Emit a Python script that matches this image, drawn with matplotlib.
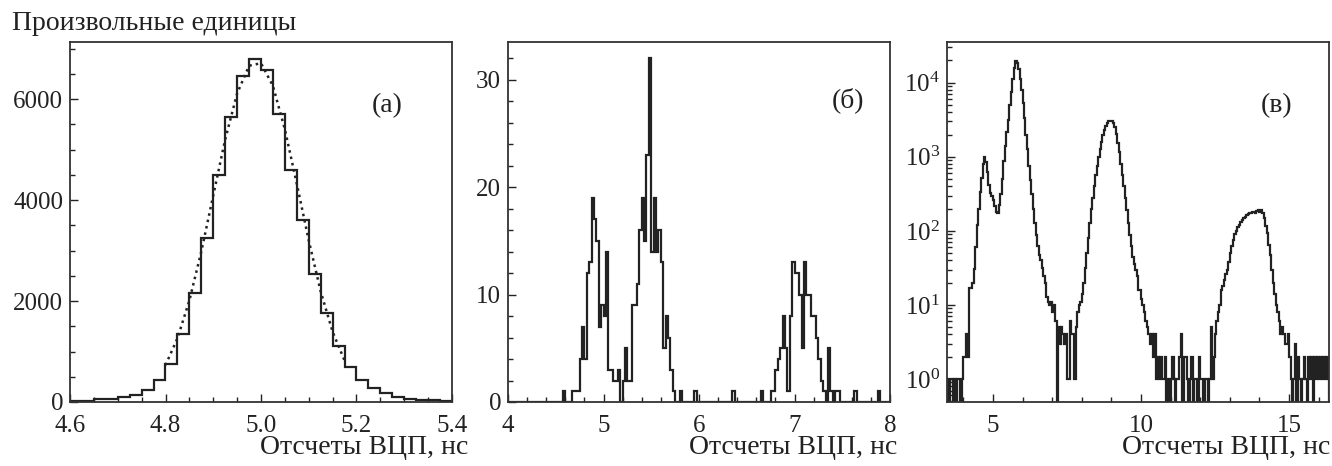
import numpy as np
import matplotlib
matplotlib.use('Agg')
import matplotlib.pyplot as plt
from matplotlib.ticker import MultipleLocator, LogLocator, NullFormatter

plt.rcParams['font.family'] = ['Liberation Serif', 'DejaVu Serif']
plt.rcParams['mathtext.fontset'] = 'stix'
plt.rcParams['font.size'] = 18

# (а) histogram, bins of 0.025 ns starting at 4.6
a_start, a_step = 4.6, 0.025
a_counts = [20, 25, 50, 65, 90, 140, 245, 440, 750, 1340,
            2150, 3250, 4490, 5640, 6450, 6800, 6580, 5700, 4590, 3600,
            2530, 1755, 1110, 700, 440, 280, 170, 100, 65, 45,
            35, 20]
# dotted fit curve
a_fit_x = [4.800, 4.825, 4.850, 4.875, 4.900, 4.925, 4.950, 4.975,
           5.000, 5.025, 5.050, 5.075, 5.100, 5.125, 5.150, 5.175]
a_fit_y = [730, 1260, 2010, 2980, 4090, 5200, 6110, 6660,
           6710, 6260, 5400, 4320, 3200, 2190, 1390, 820]

# (б) histogram, bins of 0.025 ns starting at 4.0
b_start, b_step = 4.0, 0.025
b_counts = [0, 0, 0, 0, 0, 0, 0, 0, 0, 0, 0, 0, 0, 0, 0, 0, 0, 0, 0, 0,
            0, 0, 0, 1, 0, 0, 0, 1, 1, 1, 4, 7, 4, 12, 13, 19, 17, 15, 7, 9,
            8, 14, 3, 3, 2, 2, 3, 0, 2, 5, 2, 2, 9, 9, 11, 16, 19, 15, 23, 32,
            14, 19, 14, 16, 13, 5, 8, 6, 3, 1, 0, 0, 1, 0, 0, 0, 0, 0, 1, 0,
            0, 0, 0, 0, 0, 0, 0, 0, 0, 0, 0, 0, 0, 0, 1, 0, 0, 0, 0, 0,
            0, 0, 0, 0, 0, 0, 1, 0, 0, 0, 1, 1, 3, 4, 5, 8, 5, 1, 8, 13,
            12, 12, 10, 5, 13, 10, 10, 8, 8, 6, 4, 2, 1, 0, 5, 1, 0, 1, 1, 0,
            0, 0, 0, 0, 0, 1, 0, 0, 0, 0, 0, 0, 0, 0, 0, 1, 0, 0, 0, 0]

# (в) histogram, bins of 0.05 ns starting at 3.45 (log scale)
c_start, c_step = 3.45, 0.05
c_counts = [1, 0, 1, 1, 0, 1, 0, 1, 1, 0,
            1, 2, 2, 4, 2, 17, 17, 20, 31, 60,
            120, 200, 330, 520, 800, 1000, 850, 620, 420, 320,
            300, 260, 220, 180, 175, 224, 316, 500, 890, 1410,
            2140, 3160, 5000, 7600, 11200, 15800, 19500, 18600, 15100, 11200,
            7940, 5250, 3310, 2000, 1260, 760, 480, 316, 200, 126,
            89, 63, 48, 40, 32, 25, 20, 13, 11, 10,
            11, 8, 10, 6, 0, 5, 3, 5, 4, 3,
            4, 1, 1, 6, 4, 4, 1, 5, 8, 10,
            11, 14, 20, 32, 50, 80, 126, 200, 280, 400,
            560, 760, 1000, 1260, 1580, 1950, 2290, 2630, 2880, 3020,
            3090, 3090, 2900, 2500, 2050, 1550, 1150, 800, 560, 400,
            280, 190, 126, 89, 63, 45, 36, 30, 25, 16,
            16, 12, 10, 8, 6, 5, 4, 3, 4, 2,
            4, 1, 2, 1, 2, 1, 1, 2, 0, 1,
            0, 1, 2, 1, 0, 1, 1, 2, 4, 0,
            2, 2, 1, 0, 1, 2, 0, 1, 1, 0,
            2, 1, 1, 0, 1, 1, 0, 1, 5, 1,
            2, 4, 6, 8, 10, 16, 18, 22, 26, 30,
            38, 50, 62, 75, 90, 100, 114, 122, 130, 140,
            150, 156, 162, 170, 174, 172, 178, 180, 176, 185,
            190, 182, 192, 175, 150, 118, 95, 65, 48, 30,
            20, 14, 10, 8, 6, 4, 5, 4, 3, 3,
            4, 2, 1, 0, 1, 3, 0, 2, 1, 0,
            1, 2, 1, 0, 2, 1, 2, 0, 2, 1,
            2, 1, 2, 1, 2, 1, 2, 1]

ink = '#222222'
W, H = 1332, 466
label_size = 20


def edges(start, step, n):
    return start + step * np.arange(n + 1)


def style(ax):
    for s in ax.spines.values():
        s.set_linewidth(1.3)
        s.set_color('#333333')
    ax.tick_params(which='both', direction='in', top=False, right=False,
                   colors=ink, width=1.0)
    ax.tick_params(which='major', length=6)
    ax.tick_params(which='minor', length=3.5)
    ax.tick_params(axis='x', which='major', pad=9)
    ax.tick_params(axis='y', which='major', pad=5)


fig = plt.figure(figsize=(W / 100, H / 100), dpi=100)
axa = fig.add_axes([70 / W, 64 / H, 382 / W, 360 / H])
axb = fig.add_axes([508 / W, 64 / H, 382 / W, 360 / H])
axc = fig.add_axes([947 / W, 64 / H, 382 / W, 360 / H])

# (а)
axa.stairs(a_counts, edges(a_start, a_step, len(a_counts)), color=ink, lw=1.6, baseline=0)
axa.plot(a_fit_x, a_fit_y, ls=(0, (1, 1.6)), color=ink, lw=1.8)
axa.set_xlim(4.6, 5.4)
axa.set_ylim(0, 7130)
axa.xaxis.set_major_locator(MultipleLocator(0.2))
axa.xaxis.set_minor_locator(MultipleLocator(0.05))
axa.yaxis.set_major_locator(MultipleLocator(2000))
axa.yaxis.set_minor_locator(MultipleLocator(500))
axa.xaxis.set_major_formatter(lambda v, p: f'{v:.1f}')
style(axa)
axa.text(0.83, 0.822, '(а)', transform=axa.transAxes, ha='center', va='center',
         color=ink, fontsize=label_size)

# (б)
axb.stairs(b_counts, edges(b_start, b_step, len(b_counts)), color=ink, lw=1.6, baseline=0)
axb.set_xlim(4, 8)
axb.set_ylim(0, 33.5)
axb.xaxis.set_major_locator(MultipleLocator(1))
axb.xaxis.set_minor_locator(MultipleLocator(0.2))
axb.yaxis.set_major_locator(MultipleLocator(10))
axb.yaxis.set_minor_locator(MultipleLocator(2))
style(axb)
axb.text(0.89, 0.839, '(б)', transform=axb.transAxes, ha='center', va='center',
         color=ink, fontsize=label_size)

# (в)
c_plot = np.where(np.array(c_counts) > 0, c_counts, 0.1)
axc.stairs(c_plot, edges(c_start, c_step, len(c_counts)), color=ink, lw=1.6, baseline=0.1)
axc.set_yscale('log')
axc.set_xlim(3.45, 16.35)
axc.set_ylim(0.49, 35500)
axc.xaxis.set_major_locator(MultipleLocator(5))
axc.xaxis.set_minor_locator(MultipleLocator(1))
axc.yaxis.set_major_locator(LogLocator(base=10, numticks=10))
axc.yaxis.set_minor_locator(LogLocator(base=10, subs=np.arange(2, 10), numticks=20))
axc.yaxis.set_minor_formatter(NullFormatter())
style(axc)
axc.text(0.864, 0.822, '(в)', transform=axc.transAxes, ha='center', va='center',
         color=ink, fontsize=label_size)

# labels
fig.text(12 / W, 1 - 23 / H, 'Произвольные единицы', ha='left', va='center',
         color=ink, fontsize=label_size)
for xr in (468, 897, 1330):
    fig.text(xr / W, 1 - 447 / H, 'Отсчеты ВЦП, нс', ha='right', va='center',
             color=ink, fontsize=label_size)

fig.savefig('out.png', dpi=100)
